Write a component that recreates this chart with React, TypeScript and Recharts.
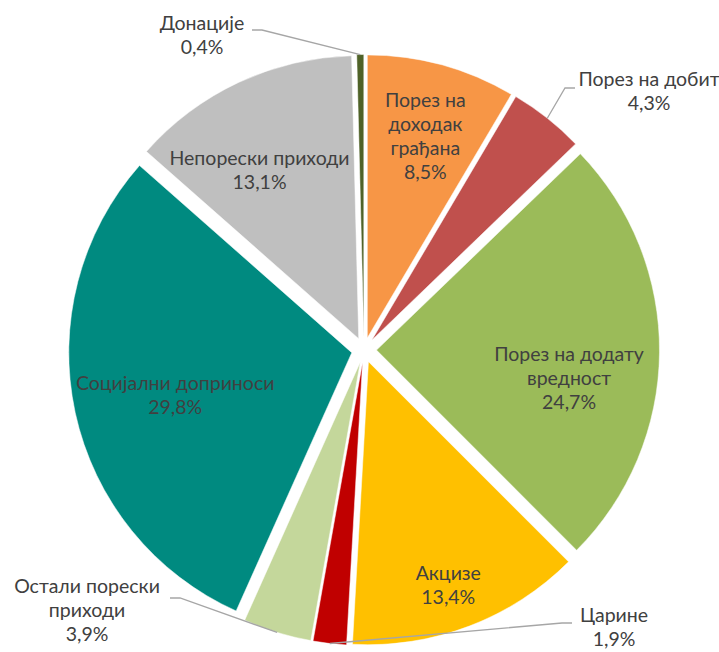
import { PieChart, Pie, Cell, Sector } from "recharts";

const CATEGORIES = [
  "Порез на доходак грађана",
  "Порез на добит",
  "Порез на додату вредност",
  "Акцизе",
  "Царине",
  "Остали порески приходи",
  "Социјални доприноси",
  "Непорески приходи",
  "Донације",
];
const SHARES = [8.5, 4.3, 24.7, 13.4, 1.9, 3.9, 29.8, 13.1, 0.4];
const LABEL_LINES = [
  ["Порез на", "доходак", "грађана"],
  ["Порез на добит"],
  ["Порез на додату", "вредност"],
  ["Акцизе"],
  ["Царине"],
  ["Остали порески", "приходи"],
  ["Социјални доприноси"],
  ["Непорески приходи"],
  ["Донације"],
];
const COLORS = [
  "#F79646",
  "#C0504D",
  "#9BBB59",
  "#FFC000",
  "#C00000",
  "#C4D79B",
  "#008A80",
  "#BFBFBF",
  "#4F6228",
];

// label placement: inside labels along the slice bisector, outside ones with leader lines
type Place =
  | { kind: "in"; r: number; nudge: number }
  | { kind: "out"; dx: number; dy: number; ex: number; ey: number; side: number };
const PLACES: Place[] = [
  { kind: "in", r: 0.73, nudge: 1 },
  { kind: "out", dx: 285, dy: -267, ex: 211, ey: -262, side: -1 },
  { kind: "in", r: 0.69, nudge: 9 },
  { kind: "in", r: 0.85, nudge: 1.5 },
  { kind: "out", dx: 250, dy: 269, ex: 208, ey: 273, side: -1 },
  { kind: "out", dx: -277, dy: 240, ex: -194, ey: 248, side: 1 },
  { kind: "in", r: 0.645, nudge: -2.4 },
  { kind: "in", r: 0.68, nudge: -6 },
  { kind: "out", dx: -162, dy: -323, ex: -112, ey: -320, side: 1 },
];

const data = CATEGORIES.map((name, i) => ({ name, value: SHARES[i] }));

const RAD = Math.PI / 180;
const EXPLODE = 12.5;
const LINE_H = 24;
const TEXT_SHIFT = -5;
const FONT = "Lato, 'Open Sans', sans-serif";

const fmt = (v: number) => v.toFixed(1).replace(".", ",") + "%";

function ExplodedSector(props: any) {
  const { cx, cy, midAngle } = props;
  const dx = EXPLODE * Math.cos(-midAngle * RAD);
  const dy = EXPLODE * Math.sin(-midAngle * RAD);
  return <Sector {...props} cx={cx + dx} cy={cy + dy} />;
}

function renderLabel(props: any) {
  const { cx, cy, midAngle, outerRadius, index, value } = props;
  const lines = [...LABEL_LINES[index], fmt(value)];
  const place = PLACES[index];
  const ox = cx + EXPLODE * Math.cos(-midAngle * RAD);
  const oy = cy + EXPLODE * Math.sin(-midAngle * RAD);
  let tx: number;
  let ty: number;
  let line = null;
  if (place.kind === "in") {
    const a = (midAngle - place.nudge) * RAD;
    const r = outerRadius * place.r;
    tx = ox + r * Math.cos(-a);
    ty = oy + r * Math.sin(-a) - ((lines.length - 1) * LINE_H) / 2;
  } else {
    tx = cx + place.dx;
    ty = cy + place.dy;
    const sx = ox + outerRadius * Math.cos(-midAngle * RAD);
    const sy = oy + outerRadius * Math.sin(-midAngle * RAD);
    const ex = cx + place.ex;
    const ey = cy + place.ey;
    line = (
      <polyline
        points={`${sx},${sy} ${ex + place.side * 10},${ey} ${ex},${ey}`}
        fill="none"
        stroke="#A6A6A6"
        strokeWidth={1.3}
      />
    );
  }
  ty += TEXT_SHIFT;
  return (
    <g key={`lbl-${index}`}>
      {line}
      <text
        x={tx}
        y={ty}
        textAnchor="middle"
        dominantBaseline="central"
        fill="#404040"
        fontSize={19.5}
        fontFamily={FONT}
      >
        {lines.map((t, i) => (
          <tspan key={i} x={tx} dy={i === 0 ? 0 : LINE_H}>
            {t}
          </tspan>
        ))}
      </text>
    </g>
  );
}

export default function App() {
  return (
    <div style={{ position: "absolute", left: 0, top: 0, background: "#fff" }}>
      <PieChart width={719} height={652}>
        <Pie
          data={data}
          dataKey="value"
          nameKey="name"
          cx={359}
          cy={345}
          outerRadius={283}
          startAngle={90}
          endAngle={-270}
          stroke="#fff"
          strokeWidth={0.5}
          shape={ExplodedSector}
          label={renderLabel}
          labelLine={false}
          isAnimationActive={false}
        >
          {data.map((d, i) => (
            <Cell key={d.name} fill={COLORS[i]} />
          ))}
        </Pie>
      </PieChart>
    </div>
  );
}
